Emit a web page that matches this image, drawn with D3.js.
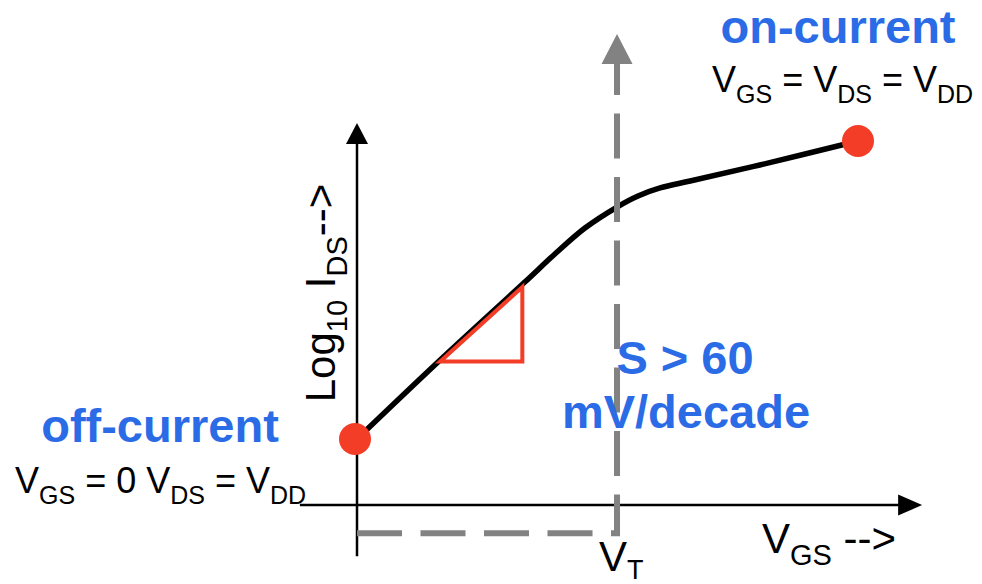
<!DOCTYPE html>
<html>
<head>
<meta charset="utf-8">
<script src="https://cdn.jsdelivr.net/npm/d3@7/dist/d3.min.js"></script>
<style>
  html, body { margin: 0; padding: 0; background: #ffffff; }
  svg { display: block; }
  text { font-family: "Liberation Sans", Arial, Helvetica, sans-serif; }
</style>
</head>
<body>
<svg id="chart" width="982" height="584"></svg>
<script>
// Transfer characteristic: gate voltage (fraction of VDD) vs log10 of drain current
const vgs    = [0, 0.166, 0.335, 0.395, 0.455, 0.519, 0.561, 0.605, 0.665, 0.804, 1.0];
const logIds = [-9, -7.41, -5.84, -5.275, -4.752, -4.329, -4.107, -3.946, -3.805, -3.483, -3];

// Threshold voltage and the two operating points
const vT = 0.519;
const offPoint = [0, -9];
const onPoint  = [1.0, -3];

// Slope triangle on the subthreshold region
const slopeTriangle = [[0.166, -7.44], [0.330, -7.44], [0.330, -5.94]];

// Axis extents (data units)
const xAxisSpan = [-0.114, 1.128];   // drawn along logI = xAxisLevel
const xAxisLevel = -10.33;
const yAxisSpan = [-11.36, -2.64];   // drawn along vgs = 0
const vTGuideLevel = -10.90;          // dashed guide under the axis
const vTGuideTop = -0.846;

const blue = "#2b6ce6";
const red = "#f43d26";
const grey = "#828282";

const svg = d3.select("#chart");

const x = d3.scaleLinear().domain([0, 1]).range([357, 858]);
const y = d3.scaleLinear().domain([-9, -3]).range([439, 141]);

// ---- axes with arrowheads ----
const axes = svg.append("g").attr("stroke", "#000").attr("fill", "#000");

const xa0 = x(xAxisSpan[0]), xa1 = x(xAxisSpan[1]), ya = y(xAxisLevel);
axes.append("line")
  .attr("x1", xa0).attr("x2", xa1 - 22)
  .attr("y1", ya).attr("y2", ya)
  .attr("stroke-width", 2.5);
axes.append("path")
  .attr("stroke", "none")
  .attr("d", `M${xa1},${ya} L${xa1 - 24},${ya - 10.5} L${xa1 - 24},${ya + 10.5} Z`);

const yx = x(0), yb = y(yAxisSpan[0]), yt = y(yAxisSpan[1]);
axes.append("line")
  .attr("x1", yx).attr("x2", yx)
  .attr("y1", yb).attr("y2", yt + 20)
  .attr("stroke-width", 2.5);
axes.append("path")
  .attr("stroke", "none")
  .attr("d", `M${yx},${yt} L${yx - 11},${yt + 21} L${yx + 11},${yt + 21} Z`);

// ---- the transfer curve ----
const line = d3.line()
  .x((d, i) => x(vgs[i]))
  .y((d, i) => y(logIds[i]))
  .curve(d3.curveCatmullRom.alpha(0.5));

svg.append("path")
  .datum(vgs)
  .attr("d", line)
  .attr("fill", "none")
  .attr("stroke", "#000")
  .attr("stroke-width", 5.5)
  .attr("stroke-linecap", "round");

// ---- dashed threshold guide with arrow ----
const gx = x(vT), gTop = y(vTGuideTop);
const guide = d3.path();
guide.moveTo(x(0), y(vTGuideLevel));
guide.lineTo(gx, y(vTGuideLevel));
guide.lineTo(gx, gTop + 30);
svg.append("path")
  .attr("d", guide.toString())
  .attr("fill", "none")
  .attr("stroke", grey)
  .attr("stroke-width", 6)
  .attr("stroke-dasharray", "45,18.5");
svg.append("path")
  .attr("fill", grey)
  .attr("d", `M${gx},${gTop} L${gx - 15.5},${gTop + 30} L${gx + 15.5},${gTop + 30} Z`);

// ---- slope triangle ----
svg.append("path")
  .datum(slopeTriangle)
  .attr("d", d3.line().x(d => x(d[0])).y(d => y(d[1])).curve(d3.curveLinearClosed))
  .attr("fill", "none")
  .attr("stroke", red)
  .attr("stroke-width", 4)
  .attr("stroke-linejoin", "miter");

// ---- operating points ----
svg.selectAll("circle.op")
  .data([offPoint, onPoint])
  .join("circle")
  .attr("class", "op")
  .attr("cx", d => x(d[0]) - (d === offPoint ? 2 : 0))
  .attr("cy", d => y(d[1]))
  .attr("r", 16)
  .attr("fill", red);

// ---- text helpers ----
// parts: [text, isSubscript]
function richText(parent, px, py, parts, size, subSize, shift, anchor) {
  const t = parent.append("text")
    .attr("x", px).attr("y", py)
    .attr("font-size", size)
    .attr("fill", "#000")
    .attr("text-anchor", anchor || "start");
  let down = false;
  parts.forEach(([s, sub]) => {
    const ts = t.append("tspan").text(s).attr("xml:space", "preserve")
      .style("white-space", "pre");
    if (sub && !down) { ts.attr("dy", shift); down = true; }
    else if (!sub && down) { ts.attr("dy", -shift); down = false; }
    ts.attr("font-size", sub ? subSize : size);
  });
  return t;
}

function blueText(px, py, s) {
  svg.append("text")
    .attr("x", px).attr("y", py)
    .attr("text-anchor", "middle")
    .attr("font-size", 47)
    .attr("font-weight", "bold")
    .attr("fill", blue)
    .text(s);
}

blueText(838, 43, "on-current");
blueText(160, 442, "off-current");
blueText(685, 374, "S > 60");
blueText(686, 428, "mV/decade");

richText(svg, 712, 92,
  [["V", false], ["GS", true], [" = V", false], ["DS", true], [" = V", false], ["DD", true]],
  36, 25, 11);
richText(svg, 15, 493,
  [["V", false], ["GS", true], [" = 0 V", false], ["DS", true], [" = V", false], ["DD", true]],
  36, 25, 11);

// axis titles
richText(svg, 762, 553, [["V", false], ["GS", true], [" -->", false]], 42, 29, 12);
richText(svg, 599, 571, [["V", false], ["T", true]], 42, 27, 8);

const yTitle = svg.append("g").attr("transform", "translate(335,293) rotate(-90)");
richText(yTitle, 0, 0,
  [["Log", false], ["10", true], [" I", false], ["DS", true], ["-->", false]],
  42, 29, 12, "middle");
</script>
</body>
</html>
